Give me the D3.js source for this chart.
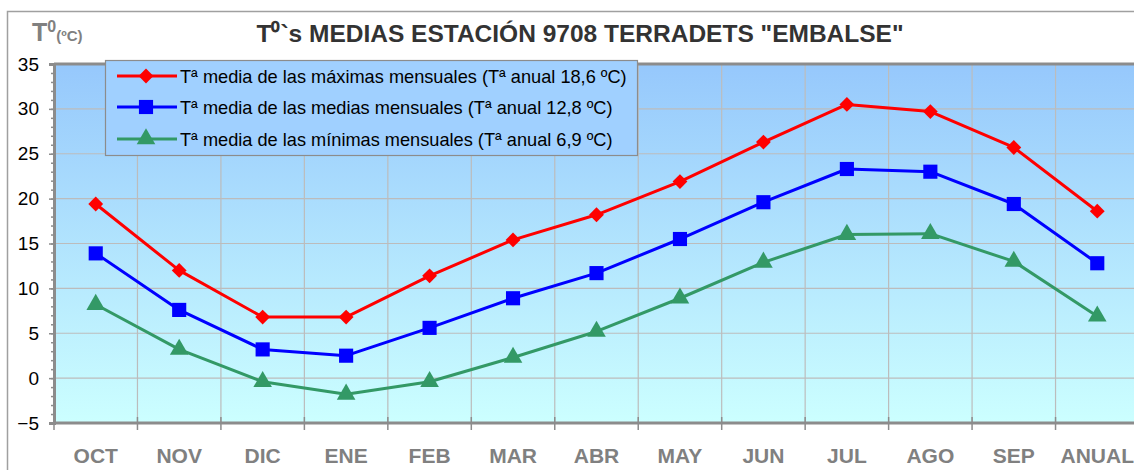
<!DOCTYPE html>
<html><head><meta charset="utf-8">
<script src="https://cdn.jsdelivr.net/npm/d3@7"></script>
<style>body{margin:0;background:#fff;overflow:hidden}svg{display:block;font-family:Arial,"Liberation Sans",sans-serif}</style>
</head><body>
<script>
const categories = ["OCT","NOV","DIC","ENE","FEB","MAR","ABR","MAY","JUN","JUL","AGO","SEP","ANUAL"];
const maxValues = [19.4,12.0,6.8,6.8,11.4,15.4,18.2,21.9,26.3,30.5,29.7,25.7,18.6];
const meanValues = [13.9,7.6,3.2,2.5,5.6,8.9,11.7,15.5,19.6,23.3,23.0,19.4,12.8];
const minValues = [8.2,3.2,-0.4,-1.8,-0.4,2.3,5.2,8.9,12.9,16.0,16.1,13.0,6.9];
const seriesNames = ["Tª media de las máximas mensuales (Tª anual 18,6 ºC)","Tª media de las medias mensuales (Tª anual 12,8 ºC)","Tª media de las mínimas mensuales (Tª anual 6,9 ºC)"];
const yTicks = [-5,0,5,10,15,20,25,30,35];
const title = "T\u2070`s MEDIAS ESTACIÓN 9708 TERRADETS \"EMBALSE\"";

const W=1134,H=470;
const svg=d3.select("body").append("svg").attr("width",W).attr("height",H);
const L=54,R=1139,T=64,B=423;
const x=d3.scaleBand().domain(categories).range([L,R]);
const y=d3.scaleLinear().domain([-5,35]).range([B,T]);

const defs=svg.append("defs");
const g=defs.append("linearGradient").attr("id","bg").attr("x1",0).attr("y1",0).attr("x2",0).attr("y2",1);
g.append("stop").attr("offset","0%").attr("stop-color","#96c8fc");
g.append("stop").attr("offset","100%").attr("stop-color","#ccffff");

// frame
svg.append("rect").attr("x",7.5).attr("y",11.5).attr("width",1140).attr("height",480).attr("fill","#fff").attr("stroke","#a0a0a0").attr("stroke-width",1.5);

svg.append("rect").attr("x",L).attr("y",T).attr("width",R-L).attr("height",B-T).attr("fill","url(#bg)");

// grid
svg.append("g").selectAll("line").data(yTicks.slice(1,-1)).join("line")
 .attr("x1",L).attr("x2",R).attr("y1",d=>y(d)).attr("y2",d=>y(d)).attr("stroke","#bcbcbc").attr("stroke-width",1.2);
svg.append("g").selectAll("line").data(categories.slice(1)).join("line")
 .attr("x1",d=>x(d)).attr("x2",d=>x(d)).attr("y1",T).attr("y2",B).attr("stroke","#bcbcbc").attr("stroke-width",1.2);
// plot border top
svg.append("line").attr("x1",L).attr("x2",R).attr("y1",T).attr("y2",T).attr("stroke","#8c8c8c").attr("stroke-width",3);

// y axis
const ya=svg.append("g").attr("transform",`translate(${L},0)`);
ya.call(d3.axisLeft(y).tickValues(d3.range(-5,36,1)).tickSize(3).tickFormat(""));
const ya2=svg.append("g").attr("transform",`translate(${L},0)`)
 .call(d3.axisLeft(y).tickValues(yTicks).tickSize(5).tickPadding(10));
[ya,ya2].forEach(a=>{a.selectAll("line").attr("stroke","#8c8c8c").attr("stroke-width",1.5);a.select("path").attr("stroke","#8c8c8c").attr("stroke-width",3);});
ya2.selectAll("text").attr("font-size",19).attr("fill","#000").attr("font-family","Arial,'Liberation Sans',sans-serif");

// x axis
const xa=svg.append("g").attr("transform",`translate(0,${B})`)
 .call(d3.axisBottom(x).tickSize(0).tickPadding(25));
xa.select("path").remove();
xa.selectAll("text").attr("font-size",21).attr("font-weight","bold").attr("fill","#808080").attr("font-family","Arial,'Liberation Sans',sans-serif");
svg.append("line").attr("x1",L).attr("x2",R).attr("y1",B).attr("y2",B).attr("stroke","#8c8c8c").attr("stroke-width",3);
svg.append("g").selectAll("line").data(categories.concat(["_end"])).join("line")
 .attr("x1",(d,i)=>L+i*x.bandwidth()).attr("x2",(d,i)=>L+i*x.bandwidth()).attr("y1",B-6).attr("y2",B+7).attr("stroke","#8c8c8c").attr("stroke-width",1.5);

// series
const diamond={draw(ctx,size){const r=Math.sqrt(size/2);ctx.moveTo(0,-r);ctx.lineTo(r,0);ctx.lineTo(0,r);ctx.lineTo(-r,0);ctx.closePath();}};
const series=[
 {vals:maxValues,color:"#ff0000",sym:diamond,size:110},
 {vals:meanValues,color:"#0000ff",sym:d3.symbolSquare,size:200},
 {vals:minValues,color:"#339966",sym:d3.symbolTriangle,size:150}];
const cx=d=>x(d)+x.bandwidth()/2;
series.forEach(s=>{
 const pts=categories.map((c,i)=>[cx(c),y(s.vals[i])]);
 svg.append("path").attr("d",d3.line()(pts)).attr("fill","none").attr("stroke",s.color).attr("stroke-width",3).attr("stroke-linejoin","round");
 svg.append("g").selectAll("path").data(pts).join("path")
  .attr("transform",d=>`translate(${d[0]},${d[1]})`)
  .attr("d",d3.symbol().type(s.sym).size(s.size)).attr("fill",s.color);
});

// legend
const lg=svg.append("g");
lg.append("rect").attr("x",105.5).attr("y",60.5).attr("width",532).attr("height",95).attr("fill","#a0d0ff").attr("stroke","#8c8c8c").attr("stroke-width",1.2);
const rowY=[76,107,139];
series.forEach((s,i)=>{
 lg.append("line").attr("x1",117).attr("x2",177).attr("y1",rowY[i]).attr("y2",rowY[i]).attr("stroke",s.color).attr("stroke-width",3);
 lg.append("path").attr("transform",`translate(146,${rowY[i]})`).attr("d",d3.symbol().type(s.sym).size(s.size)).attr("fill",s.color);
 lg.append("text").attr("x",180).attr("y",rowY[i]+6.5).attr("font-size",18.2).attr("fill","#000").text(seriesNames[i]);
});

// title
svg.append("text").attr("x",580).attr("y",42).attr("text-anchor","middle").attr("font-size",24.5).attr("font-weight","bold").attr("fill","#333").text(title);
// y axis title
const yt=svg.append("text").attr("x",32).attr("y",41).attr("fill","#808080").attr("font-weight","bold");
yt.append("tspan").attr("font-size",25).text("T");
yt.append("tspan").attr("font-size",16).attr("dy",-9).text("0");
yt.append("tspan").attr("font-size",15).attr("dy",9).text("(ºC)");
</script>
</body></html>
